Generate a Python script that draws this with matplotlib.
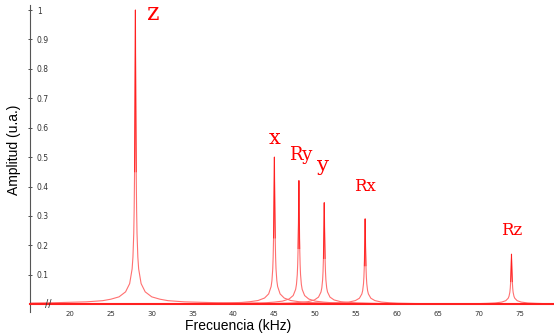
import numpy as np
from matplotlib import pyplot as plt

# modos de vibracion: etiqueta, frecuencia (kHz), amplitud
modes = ['z', 'x', 'Ry', 'y', 'Rx', 'Rz']
freqs = [28.0, 45.0, 48.0, 51.1, 56.1, 74.0]
amps = [1.0, 0.5, 0.42, 0.345, 0.29, 0.17]

prof_df = [-15, -10, -6, -4, -3, -2, -1.2, -0.7, -0.4, -0.3, -0.2, -0.15, -0.1, -0.05, 0,
           0.05, 0.1, 0.15, 0.2, 0.3, 0.4, 0.7, 1.2, 2, 3, 4, 6, 10, 15]
prof_a = [0.003, 0.005, 0.008, 0.012, 0.017, 0.025, 0.042, 0.07, 0.12, 0.16, 0.24, 0.32, 0.45, 0.7, 1.0,
          0.7, 0.45, 0.32, 0.24, 0.16, 0.12, 0.07, 0.042, 0.025, 0.017, 0.012, 0.008, 0.005, 0.003]

# posicion y tamano de las etiquetas de cada modo
lab_x = [30.2, 45.0, 48.2, 51.0, 56.1, 74.0]
lab_y = [0.95, 0.53, 0.475, 0.44, 0.37, 0.22]
lab_size = [17, 15, 13, 15, 12, 12]

xticks = [20, 25, 30, 35, 40, 45, 50, 55, 60, 65, 70, 75]
yticks = [0.1, 0.2, 0.3, 0.4, 0.5, 0.6, 0.7, 0.8, 0.9, 1]

fig = plt.figure(figsize=(5.54, 3.36), dpi=100)
ax = fig.add_axes([0.054, 0.071, 0.946, 0.914])

for f0, a0 in zip(freqs, amps):
    xs = f0 + np.array(prof_df)
    ys = a0 * np.array(prof_a)
    ax.plot(xs, ys, color='#ff7070', lw=0.8)
    ax.plot(xs[12:17], ys[12:17], color='#ff2020', lw=0.6)

for m, x, y, s in zip(modes, lab_x, lab_y, lab_size):
    ax.text(x, y, m, color='red', fontsize=s, family='DejaVu Serif', ha='center', va='bottom')

ax.set_xlim(15.1, 79.2)
ax.set_ylim(-0.027, 1.017)
ax.spines['top'].set_visible(False)
ax.spines['right'].set_visible(False)
ax.spines['bottom'].set_position(('data', 0))
ax.spines['bottom'].set_color('#ff2020')
ax.spines['bottom'].set_linewidth(1.5)
ax.spines['left'].set_color('#555555')
ax.spines['left'].set_linewidth(0.8)

ax.set_xticks(xticks)
ax.set_xticklabels([str(t) for t in xticks])
ax.set_yticks(yticks)
ax.set_yticklabels(['0.1', '0.2', '0.3', '0.4', '0.5', '0.6', '0.7', '0.8', '0.9', '1'])
ax.tick_params(axis='x', length=0, labelsize=5, colors='#333333', pad=5)
ax.tick_params(axis='y', direction='inout', length=3, width=0.6, labelsize=5.5, colors='#333333', pad=-6.5)
for lab in ax.get_yticklabels():
    lab.set_ha('left')

ax.text(17.3, 0.0, '//', fontsize=7, color='#333333', ha='center', va='center')

ax.set_xlabel('Frecuencia (kHz)', fontsize=10, family='Liberation Sans')
ax.xaxis.set_label_coords(0.397, -0.022)
ax.set_ylabel('Amplitud (u.a.)', fontsize=10, family='Liberation Sans')
ax.yaxis.set_label_coords(-0.017, 0.53)

fig.savefig('out.png', dpi=100)
